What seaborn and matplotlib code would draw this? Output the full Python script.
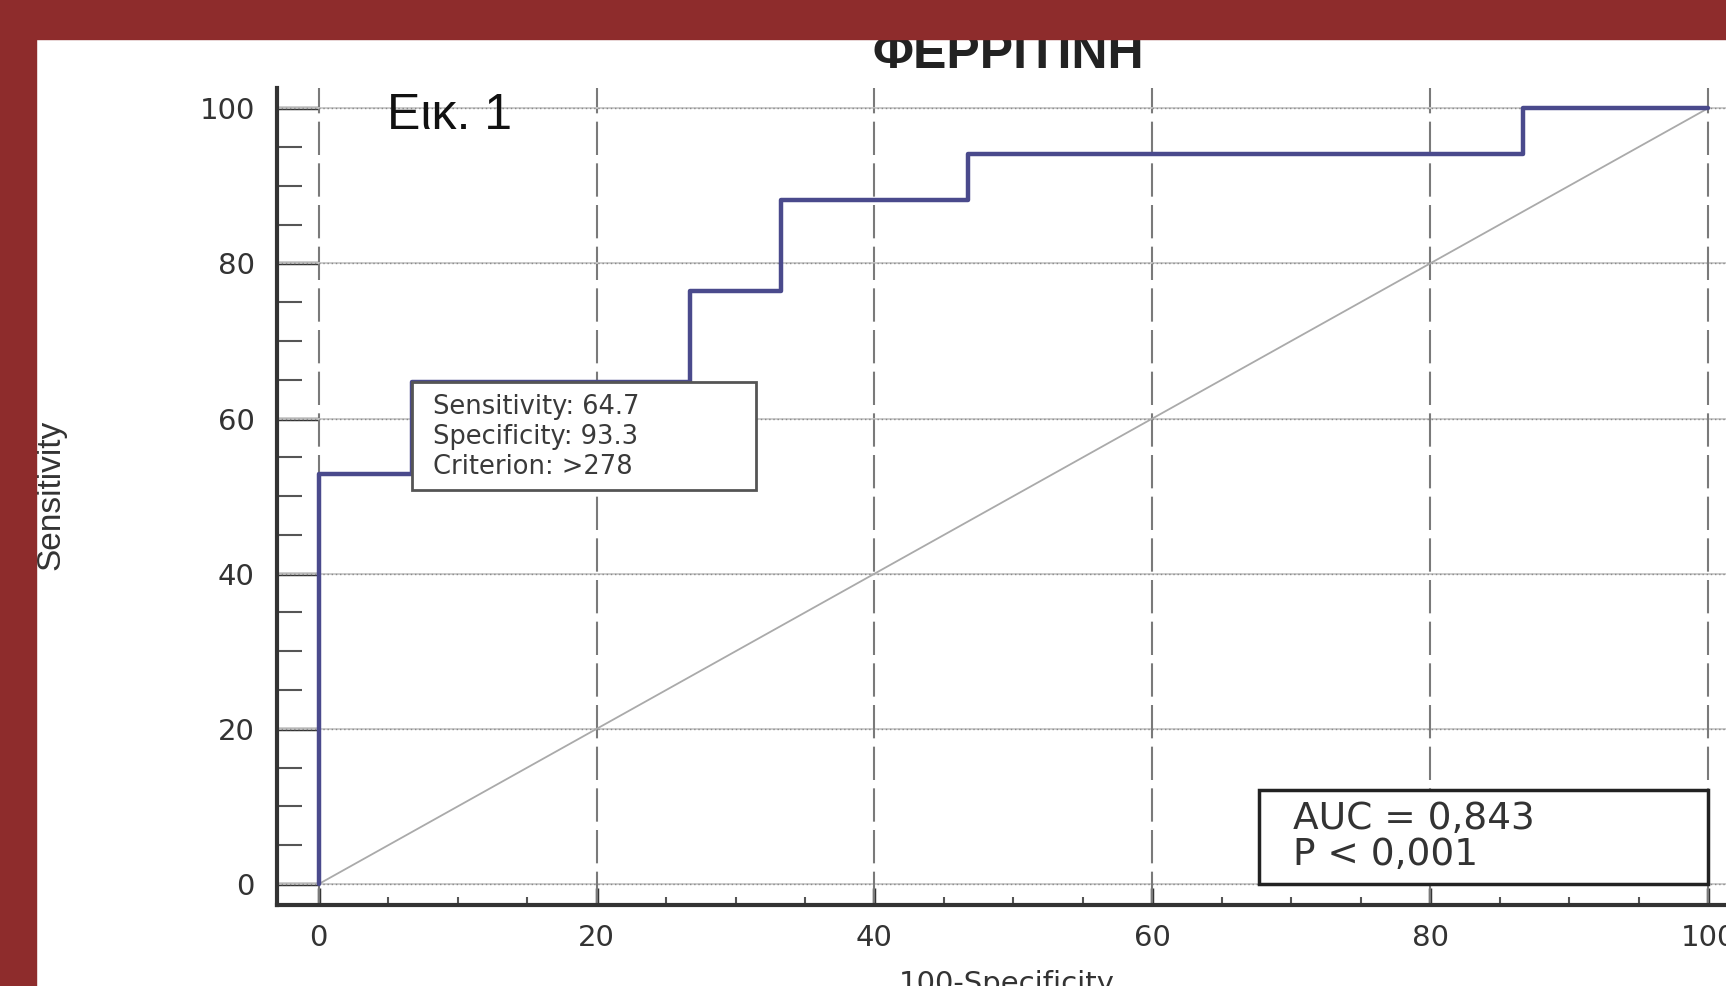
import numpy as np
import pandas as pd
import matplotlib
matplotlib.use("Agg")
import matplotlib.pyplot as plt
import seaborn as sns

# ROC corner points (100-Specificity, Sensitivity)
fpr = [0, 0, 6.7, 6.7, 26.7, 26.7, 33.3, 33.3, 46.7, 46.7, 86.7, 86.7, 100]
tpr = [0, 52.9, 52.9, 64.7, 64.7, 76.5, 76.5, 88.2, 88.2, 94.1, 94.1, 100, 100]
ref_x = [0, 100]
ref_y = [0, 100]
ticks = [0, 20, 40, 60, 80, 100]

cut_point = (6.7, 64.7)
cut_text = ["Sensitivity: 64.7", "Specificity: 93.3", "Criterion: >278"]
auc_text = ["AUC = 0,843", "P < 0,001"]

title = "ΦΕΡΡΙΤΙΝΗ"
fig_label = "Εικ. 1"

sns.set_style("white")
plt.rcParams["font.family"] = ["DejaVu Sans"]

W, H = 1726, 986
fig = plt.figure(figsize=(W / 100, H / 100), dpi=100)
fig.patch.set_facecolor("white")

# axes in pixels: left spine 277, bottom 905, top 88, x from -3 to 104
xmin, xmax = -3.0, 104.0
ymin, ymax = -2.7, 102.6
px_per_x = 13.895
ax_w = (xmax - xmin) * px_per_x
ax = fig.add_axes([277 / W, 1 - 905 / H, ax_w / W, (905 - 88) / H])
ax.set_xlim(xmin, xmax)
ax.set_ylim(ymin, ymax)

# grid
for t in ticks:
    ax.axhline(t, color="#c8c8c8", lw=1.3, zorder=1)
    ax.axhline(t, color="#8a8a8a", lw=1.0, ls=(0, (1, 2)), zorder=1)
    ax.axvline(t, color="#7a7a7a", lw=1.5, ls=(0, (16, 4)), zorder=1)

sns.lineplot(x=ref_x, y=ref_y, ax=ax, color="#aaaaaa", lw=1.3, zorder=2)
sns.lineplot(x=fpr, y=tpr, ax=ax, sort=False, estimator=None,
             color="#4a4a8c", lw=3.2, zorder=3)

# criterion box
bx0, by0 = cut_point
ax.add_patch(plt.Rectangle((bx0, 50.8), 31.5 - bx0, by0 - 50.8,
                           facecolor="white", edgecolor="#555555", lw=2, zorder=4))
ax.text(8.2, 57.6, "\n".join(cut_text), fontsize=18.5, color="#3a3a3a",
        va="center", ha="left", linespacing=1.2, zorder=5)

# AUC box
ax.add_patch(plt.Rectangle((67.7, 0), 100 - 67.7, 12.1,
                           facecolor="white", edgecolor="#222222", lw=2.5, zorder=4))
ax.text(70.1, 6.1, "\n".join(auc_text), fontsize=27, color="#333333",
        va="center", ha="left", linespacing=1.0, zorder=5)

ax.text(4.9, 99.0, fig_label, fontsize=36, color="#111111",
        family=["Liberation Sans", "DejaVu Sans"], va="center", ha="left", zorder=5)

# spines & ticks
for s in ["top", "right"]:
    ax.spines[s].set_visible(False)
for s in ["left", "bottom"]:
    ax.spines[s].set_linewidth(3)
    ax.spines[s].set_color("#333333")

ax.set_xticks(ticks)
ax.set_yticks(ticks)
ax.set_xticks(np.arange(0, 101, 5), minor=True)
ax.set_yticks(np.arange(0, 101, 5), minor=True)
ax.tick_params(left=True, bottom=True, which="both")
ax.tick_params(axis="y", which="major", direction="in", length=30, width=2.5,
               color="#333333", labelsize=21, labelcolor="#333333", pad=16)
ax.tick_params(axis="y", which="minor", direction="in", length=18, width=1.5,
               color="#555555")
ax.tick_params(axis="x", which="major", direction="in", length=12, width=2.5,
               color="#333333", labelsize=21, labelcolor="#333333", pad=14)
ax.tick_params(axis="x", which="minor", direction="in", length=6, width=1.5,
               color="#555555")

ax.set_xlabel("100-Specificity", fontsize=21, color="#333333")
ax.xaxis.set_label_coords((49.5 - xmin) / (xmax - xmin), (905 - 992) / (905 - 88))
ax.xaxis.label.set_va("baseline")
ax.set_ylabel("Sensitivity", fontsize=24, color="#333333",
              family=["Liberation Sans Narrow", "DejaVu Sans Condensed", "Liberation Sans"])
ax.yaxis.set_label_coords((66 - 277) / ax_w, (905 - 495) / (905 - 88))

fig.text(1008 / W, 1 - 68 / H, title, fontsize=36, fontweight="bold", color="#222222",
         family=["Liberation Sans", "DejaVu Sans"], ha="center", va="baseline", zorder=5)

# dark red frame
frame = "#8e2c2c"
fig.add_artist(plt.Rectangle((0, 0), 36 / W, 1, transform=fig.transFigure,
                             color=frame, zorder=10))
fig.add_artist(plt.Rectangle((0, 1 - 39 / H), 1, 39 / H, transform=fig.transFigure,
                             color=frame, zorder=10))

fig.savefig("out.png", dpi=100)
